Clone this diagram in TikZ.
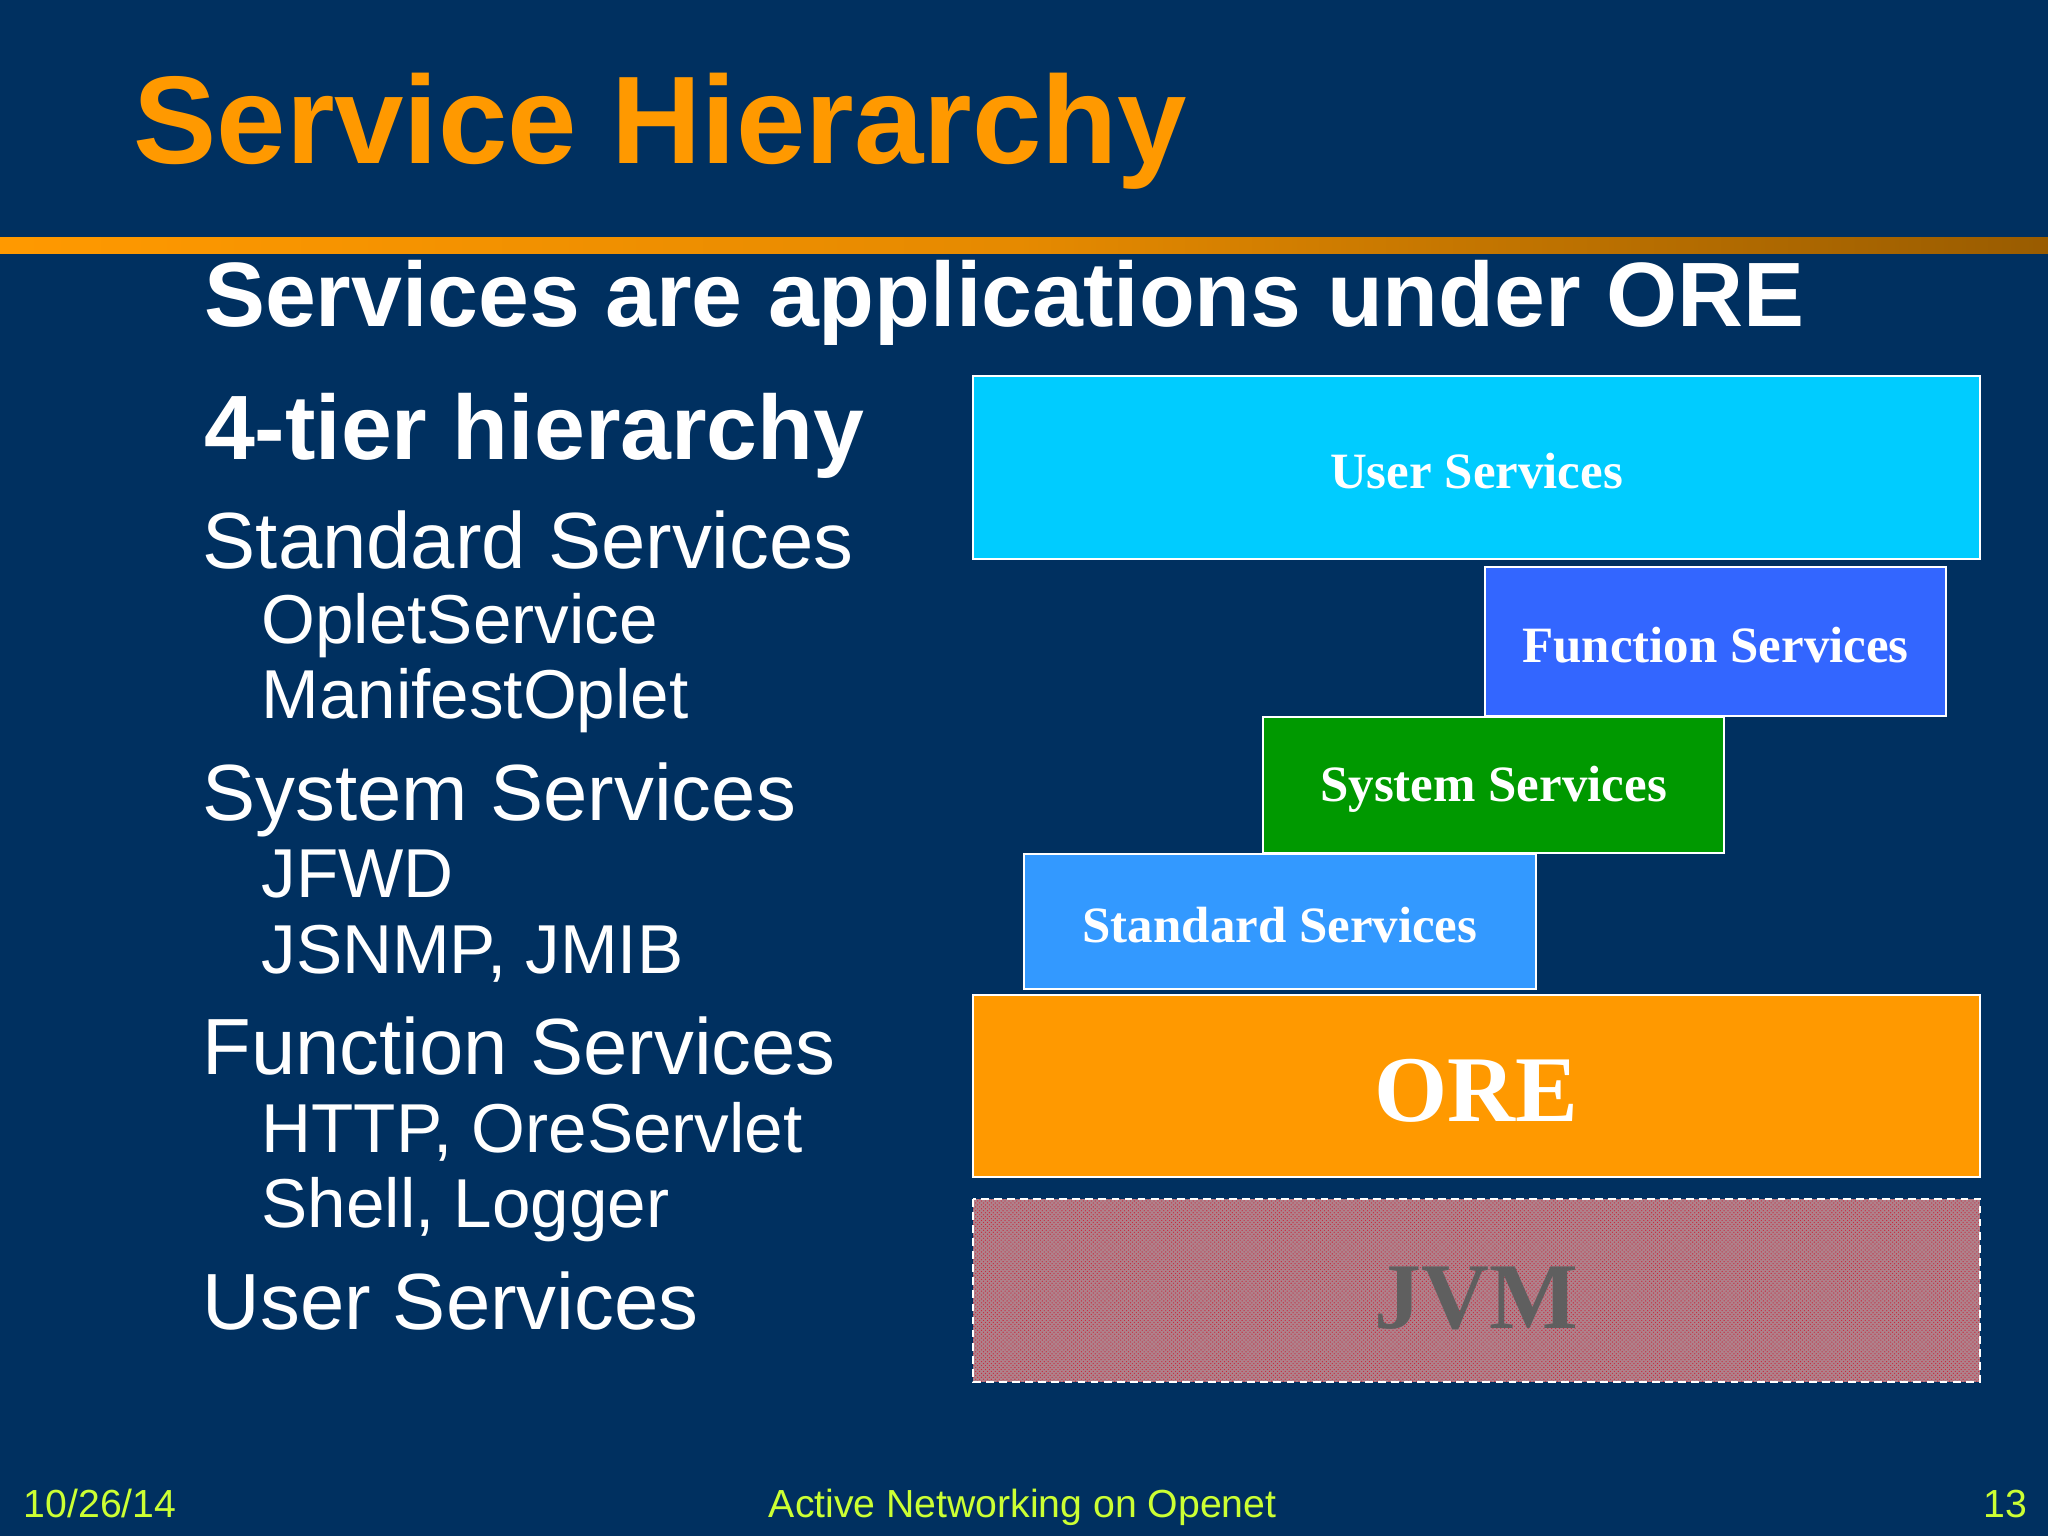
\documentclass[tikz,border=0pt]{standalone}
\usepackage{fontspec}
\setmainfont{Liberation Sans}
\newfontfamily\tms{Liberation Serif}
\usetikzlibrary{patterns}
\definecolor{navy}{RGB}{0,48,96}
\definecolor{orng}{RGB}{255,153,0}
\definecolor{foot}{RGB}{204,255,51}
\definecolor{ucyan}{RGB}{0,204,255}
\definecolor{fblue}{RGB}{51,102,255}
\definecolor{sgreen}{RGB}{0,153,0}
\definecolor{stblue}{RGB}{51,153,255}
\definecolor{jvmbase}{RGB}{175,130,140}
\definecolor{jvmdot}{RGB}{200,40,60}
\definecolor{jvmtext}{RGB}{95,95,95}
\begin{document}
\begin{tikzpicture}[x=1pt,y=-1pt,
  lay/.style={draw=white,line width=1.5pt,text=white,font=\tms\bfseries\fontsize{39}{42}\selectfont},
  side/.style={anchor=base west,text=white,inner sep=0pt},
  ft/.style={text=foot,font=\fontsize{30}{32}\selectfont,inner sep=0pt}]
\fill[navy] (0,0) rectangle (1568,1176);
\useasboundingbox (0,0) rectangle (1568,1176);
\node[anchor=base west,inner sep=0pt,text=orng,font=\bfseries\fontsize{95.5}{98}\selectfont] (title) at (102,125) {Service Hierarchy};
\shade[left color=orng,right color=orng!60!black,middle color=orng!90!black] (0,182) rectangle (1568,194);
\node[side,font=\bfseries\fontsize{70}{72}\selectfont] (sub) at (156,250) {Services are applications under ORE};
\node[side,font=\bfseries\fontsize{70}{72}\selectfont] (t4) at (156,352) {4-tier hierarchy};
\begin{scope}[every node/.style={side,font=\fontsize{61}{63}\selectfont}]
\node (a) at (155,435) {Standard Services};
\node (b) at (155,628) {System Services};
\node (c) at (155,823) {Function Services};
\node (d) at (155,1018) {User Services};
\end{scope}
\begin{scope}[every node/.style={side,font=\fontsize{53}{55}\selectfont}]
\node (a1) at (200,493) {OpletService};
\node (a2) at (200,550) {ManifestOplet};
\node (b1) at (200,687) {JFWD};
\node (b2) at (200,745) {JSNMP, JMIB};
\node (c1) at (200,882) {HTTP, OreServlet};
\node (c2) at (200,940) {Shell, Logger};
\end{scope}
\draw[lay,fill=ucyan] (745,288) rectangle (1516,428) node[midway,yshift=-3pt] (us) {User Services};
\draw[lay,fill=fblue] (1137,434) rectangle (1490,548) node[midway,yshift=-3pt] (fs) {Function Services};
\draw[lay,fill=sgreen] (967,549) rectangle (1320,653) node[midway,yshift=-3pt] (ss) {System Services};
\draw[lay,fill=stblue] (784,654) rectangle (1176,757) node[midway,yshift=-3pt] (sts) {Standard Services};
\draw[lay,fill=orng,font=\tms\bfseries\fontsize{72}{74}\selectfont] (745,762) rectangle (1516,901) node[midway,yshift=-4pt] (ore) {ORE};
\fill[jvmbase] (745,918) rectangle (1516,1058);
\fill[pattern=crosshatch dots,pattern color=jvmdot] (745,918) rectangle (1516,1058);
\draw[white,line width=2pt,dash pattern=on 6pt off 4pt] (745,918) rectangle (1516,1058);
\node[text=jvmtext,font=\tms\bfseries\fontsize{72}{74}\selectfont] (jvm) at (1130,994) {JVM};
\node[ft,anchor=base west] (f1) at (18,1162) {10/26/14};
\node[ft,anchor=base] (f2) at (783,1162) {Active Networking on Openet};
\node[ft,anchor=base east] (f3) at (1552,1162) {13};
\end{tikzpicture}
\end{document}
